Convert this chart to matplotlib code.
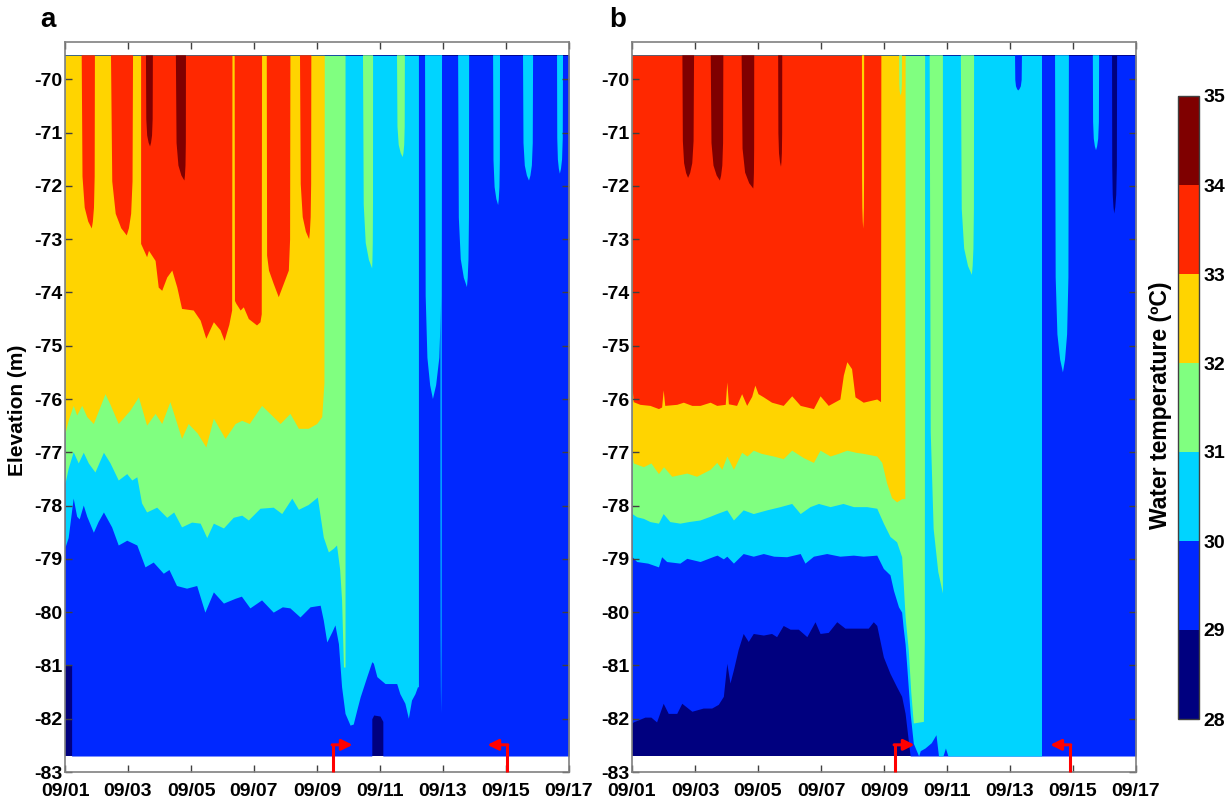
import numpy as np
import matplotlib
matplotlib.use("Agg")
import matplotlib.pyplot as plt
import matplotlib as mpl
from matplotlib.colors import ListedColormap, BoundaryNorm

plt.rcParams['font.family'] = ['Liberation Sans', 'DejaVu Sans']
plt.rcParams['font.weight'] = 'bold'

TOP = -69.55
BOT = -82.7

temp_levels = [28, 29, 30, 31, 32, 33, 34, 35]
band_colors = ['#00007f', '#0028ff', '#00d4ff', '#80ff80', '#ffd400', '#ff2800', '#7f0000']
xtick_pos = [0, 2, 4, 6, 8, 10, 12, 14, 16]
xtick_labels = ['09/01', '09/03', '09/05', '09/07', '09/09', '09/11', '09/13', '09/15', '09/17']
ytick_vals = list(range(-83, -69))

# ---------------- panel a : isotherm elevations (days since 09/01, m) ----------------
a_t29 = [0, 0.21, 0.21, 9.74, 9.74, 9.8, 10.0, 10.09, 10.09, 16]
a_z29 = [-81.0, -81.0, BOT, BOT, -82.0, -81.93, -81.95, -82.05, BOT, BOT]

a_t30 = [0, 0.1, 0.26, 0.37, 0.45, 0.58, 0.69, 0.9, 1.05, 1.22, 1.48, 1.69, 1.96, 2.28, 2.54,
         2.8, 3.12, 3.3, 3.54, 3.86, 4.18, 4.44, 4.71, 5.03, 5.4, 5.6, 5.87, 6.24, 6.61, 6.9,
         7.14, 7.46, 7.78, 8.1, 8.2, 8.31, 8.47, 8.57, 8.68, 8.78, 8.89, 9.05, 9.15, 9.26, 9.37,
         9.58, 9.74, 9.79, 9.9, 10.16, 10.53, 10.63, 10.79, 10.9, 11.0, 11.11, 11.19, 11.22,
         11.22, 16]
a_z30 = [-78.78, -78.6, -77.86, -78.2, -78.25, -77.99, -78.2, -78.5, -78.3, -78.12, -78.4,
         -78.74, -78.65, -78.74, -79.15, -79.06, -79.27, -79.2, -79.5, -79.55, -79.5, -80.0,
         -79.62, -79.83, -79.74, -79.7, -79.92, -79.77, -80.0, -79.9, -79.92, -80.09, -79.9,
         -79.87, -80.15, -80.56, -80.37, -80.24, -80.59, -81.4, -81.9, -82.12, -82.1, -81.84,
         -81.59, -81.21, -80.93, -80.96, -81.21, -81.34, -81.34, -81.53, -81.71, -81.99,
         -81.65, -81.53, -81.4, -81.4, TOP, TOP]

a_t31 = [0, 0.1, 0.26, 0.42, 0.58, 0.74, 0.95, 1.22, 1.43, 1.69, 1.96, 2.12, 2.28, 2.43, 2.59,
         2.91, 3.23, 3.45, 3.7, 4.02, 4.29, 4.5, 4.71, 5.03, 5.34, 5.61, 5.82, 6.19, 6.61, 6.88,
         7.2, 7.41, 7.72, 8.01, 8.2, 8.36, 8.52, 8.62, 8.72, 8.78, 8.84, 8.89, 8.89, 16]
a_z31 = [-77.58, -77.3, -76.99, -77.2, -77.0, -77.2, -77.37, -77.0, -77.2, -77.52, -77.4,
         -77.52, -77.46, -77.95, -78.12, -78.03, -78.22, -78.12, -78.4, -78.31, -78.33, -78.6,
         -78.33, -78.42, -78.22, -78.18, -78.27, -78.05, -78.03, -78.15, -77.86, -78.07, -77.98,
         -77.84, -78.59, -78.87, -78.8, -78.74, -79.2, -79.77, -81.03, -81.03, TOP, TOP]

a_t32 = [0, 0.1, 0.26, 0.37, 0.53, 0.69, 0.9, 1.27, 1.43, 1.69, 2.06, 2.33, 2.59, 2.86, 3.07,
         3.33, 3.7, 3.91, 4.2, 4.47, 4.71, 5.08, 5.4, 5.61, 5.85, 6.24, 6.45, 6.83, 7.14, 7.41,
         7.72, 7.99, 8.15, 8.22, 8.23, 16]
a_z32 = [-76.64, -76.4, -76.12, -76.3, -76.12, -76.33, -76.46, -75.9, -76.1, -76.46, -76.21,
         -75.96, -76.49, -76.27, -76.46, -76.05, -76.74, -76.46, -76.64, -76.9, -76.36, -76.74,
         -76.46, -76.4, -76.46, -76.12, -76.24, -76.46, -76.27, -76.55, -76.55, -76.46, -76.33,
         -75.7, TOP, TOP]

a_t33 = [0, 2.40, 2.40, 2.59, 2.65, 2.86, 2.96, 3.07, 3.23, 3.39, 3.55, 3.7, 4.07, 4.29, 4.47,
         4.71, 4.92, 5.05, 5.2, 5.29, 5.30, 5.37, 5.38, 5.42, 5.56, 5.66, 5.82, 6.08, 6.19, 6.23,
         6.24, 6.39, 6.40, 6.46, 6.61, 6.77, 6.93, 7.09, 7.13, 7.14, 16]
a_z33 = [TOP, TOP, -73.08, -73.33, -73.21, -73.4, -73.9, -73.96, -73.71, -73.58, -73.9, -74.3,
         -74.33, -74.52, -74.86, -74.55, -74.7, -74.9, -74.6, -74.33, TOP, TOP, -74.15, -74.2,
         -74.33, -74.27, -74.49, -74.61, -74.55, -74.4, TOP, TOP, -73.3, -73.58, -73.83, -74.08,
         -73.83, -73.58, -73.0, TOP, TOP]

a_t34 = [0, 16]
a_z34 = [TOP, TOP]

# tongues hanging from the surface: left, right, tip time, tip elevation, band (lower bound)
a_tg_left = [0.53, 1.46, 7.46, 2.57, 3.52, 9.46, 10.54, 11.43, 11.92, 12.48, 13.59, 14.54, 15.62]
a_tg_right = [0.95, 2.16, 7.82, 2.79, 3.84, 9.78, 10.79, 11.97, 11.96, 12.83, 13.81, 14.86, 15.81]
a_tg_tip_t = [0.85, 1.96, 7.75, 2.70, 3.79, 9.75, 10.72, 11.68, 11.94, 12.76, 13.75, 14.73, 15.71]
a_tg_tip_z = [-72.8, -72.93, -73.0, -71.26, -71.9, -73.55, -71.46, -76.0, -81.9, -73.9, -72.36,
              -71.9, -71.77]
a_tg_band = [33, 33, 33, 34, 34, 31, 31, 30, 30, 30, 30, 30, 30]

# ---------------- panel b ----------------
b_t29 = [0, 0.04, 0.41, 0.6, 0.78, 0.99, 1.15, 1.42, 1.58, 1.9, 2.26, 2.53, 2.74, 2.9, 3.01,
         3.11, 3.22, 3.37, 3.53, 3.69, 3.85, 4.17, 4.43, 4.59, 4.8, 5.02, 5.28, 5.55, 5.81,
         5.97, 6.23, 6.5, 6.76, 7.03, 7.3, 7.5, 7.66, 7.77, 7.98, 8.19, 8.4, 8.56, 8.67, 8.77,
         8.83, 16]
b_z29 = [-82.08, -82.06, -81.97, -81.97, -82.06, -81.71, -81.9, -81.9, -81.71, -81.86, -81.8,
         -81.8, -81.73, -81.58, -80.96, -81.33, -81.08, -80.7, -80.4, -80.55, -80.4, -80.43,
         -80.4, -80.46, -80.25, -80.32, -80.32, -80.46, -80.18, -80.4, -80.38, -80.18, -80.3,
         -80.3, -80.3, -80.3, -80.18, -80.25, -80.84, -81.15, -81.4, -81.58, -81.9, -82.4, BOT,
         BOT]

b_t30 = [0, 0.15, 0.5, 0.84, 0.94, 1.1, 1.52, 1.74, 2.16, 2.6, 2.7, 2.9, 3.01, 3.22, 3.53,
         3.85, 4.17, 4.5, 4.91, 5.34, 5.49, 5.76, 6.18, 6.6, 7.03, 7.34, 7.77, 7.98, 8.19, 8.3,
         8.46, 8.56, 8.61, 8.67, 8.72, 8.83, 8.93, 9.1, 9.15, 9.3, 9.5, 9.65, 9.7, 9.73, 9.87,
         9.95, 10.03, 13.0, 13.0, 16]
b_z30 = [-78.96, -79.05, -79.08, -79.15, -78.96, -79.05, -79.08, -78.99, -79.05, -78.95,
         -78.93, -79.0, -78.95, -79.08, -78.9, -78.95, -78.9, -78.95, -78.96, -78.9, -79.08,
         -78.95, -78.9, -78.95, -78.93, -78.95, -78.93, -79.18, -79.3, -79.59, -79.9, -80.0,
         -80.3, -80.6, -81.0, -81.9, -82.46, BOT, -82.6, -82.55, -82.45, -82.3, -82.55, BOT,
         BOT, -82.55, BOT, BOT, TOP, TOP]

b_t31 = [0, 0.15, 0.36, 0.57, 0.84, 0.99, 1.2, 1.52, 1.8, 2.16, 2.48, 2.69, 3.01, 3.22, 3.53,
         3.85, 4.28, 4.7, 5.07, 5.34, 5.65, 5.92, 6.29, 6.7, 7.03, 7.45, 7.77, 7.98, 8.19, 8.4,
         8.56, 8.61, 8.67, 8.77, 8.85, 8.93, 9.25, 9.28, 9.29, 16]
b_z31 = [-78.15, -78.21, -78.24, -78.3, -78.33, -78.15, -78.3, -78.33, -78.3, -78.27, -78.2,
         -78.15, -78.08, -78.27, -78.08, -78.15, -78.08, -78.02, -77.96, -78.15, -78.02, -77.96,
         -78.02, -77.96, -78.02, -78.02, -78.05, -78.33, -78.58, -78.68, -78.96, -79.46, -80.09,
         -80.71, -81.5, -82.08, -82.05, -80.5, TOP, TOP]

b_t32 = [0, 0.04, 0.36, 0.6, 0.84, 1.0, 1.26, 1.74, 2.05, 2.48, 2.69, 2.85, 3.01, 3.22, 3.48,
         3.65, 3.85, 4.1, 4.49, 4.8, 5.07, 5.44, 5.76, 5.97, 6.29, 6.55, 6.82, 7.1, 7.34, 7.77,
         7.93, 8.08, 8.24, 8.4, 8.56, 8.66, 8.67, 16]
b_z32 = [-77.02, -77.2, -77.27, -77.2, -77.4, -77.27, -77.45, -77.39, -77.45, -77.32, -77.19,
         -77.32, -77.07, -77.32, -77.0, -77.07, -76.96, -77.02, -77.07, -77.12, -76.96, -77.1,
         -77.19, -76.96, -77.07, -77.02, -76.96, -77.0, -77.02, -77.07, -77.19, -77.57, -77.85,
         -77.93, -77.87, -77.87, TOP, TOP]

b_t33 = [0, 0.04, 0.25, 0.57, 0.84, 0.94, 0.99, 1.04, 1.42, 1.63, 1.9, 2.16, 2.48, 2.69, 2.96,
         3.01, 3.06, 3.32, 3.48, 3.64, 3.8, 3.9, 4.0, 4.17, 4.43, 4.8, 5.07, 5.34, 5.76, 5.97,
         6.23, 6.6, 6.71, 6.82, 6.97, 7.08, 7.34, 7.77, 7.89, 7.9, 16]
b_z33 = [-75.77, -76.05, -76.1, -76.12, -76.18, -76.15, -75.83, -76.12, -76.1, -76.06, -76.12,
         -76.12, -76.06, -76.12, -76.1, -75.68, -76.09, -76.12, -75.9, -76.12, -75.95, -75.74,
         -75.9, -75.96, -76.06, -76.12, -75.94, -76.12, -76.18, -75.94, -76.12, -76.0, -75.55,
         -75.3, -75.43, -75.96, -76.06, -76.0, -76.05, TOP, TOP]

b_t34 = [0, 16]
b_z34 = [TOP, TOP]

b_tg_left = [1.60, 2.50, 3.48, 4.64, 7.30, 8.48, 9.45, 10.44, 12.16, 13.43, 14.63, 15.24]
b_tg_right = [1.97, 2.90, 3.88, 4.77, 7.37, 8.57, 9.87, 10.86, 12.38, 13.87, 14.83, 15.40]
b_tg_tip_t = [1.78, 2.79, 3.85, 4.73, 7.34, 8.53, 9.87, 10.79, 12.26, 13.68, 14.73, 15.31]
b_tg_tip_z = [-71.85, -71.9, -72.05, -71.64, -72.8, -70.3, -79.65, -73.67, -70.21, -75.5,
              -71.33, -72.52]
b_tg_band = [34, 34, 34, 34, 32, 31, 31, 31, 29, 30, 30, 28]

# gate operation markers (day, direction)
a_arrow_t = [8.51, 14.03]
a_arrow_dir = [1, -1]
b_arrow_t = [8.35, 13.90]
b_arrow_dir = [1, -1]

# ------------------------------------------------------------------
DEPTH_FR = [0.0, 0.7, 0.88, 0.96, 1.0]
WIDTH_FR = [0.0, 0.08, 0.3, 0.65, 1.0]


def color_of(band):
    return band_colors[temp_levels.index(band)]


def draw_panel(ax, iso, tg_l, tg_r, tg_tt, tg_tz, tg_b, arr_t, arr_d):
    ax.fill_between([0, 16], [BOT, BOT], [TOP, TOP], color=band_colors[0], lw=0)
    for band, (tt, zz) in zip([29, 30, 31, 32, 33, 34], iso):
        ax.fill_between(tt, zz, TOP, color=color_of(band), lw=0)
    for t0, t1, tpt, tpz, b in zip(tg_l, tg_r, tg_tt, tg_tz, tg_b):
        lx = [t0 + (tpt - t0) * w for w in WIDTH_FR]
        rx = [t1 - (t1 - tpt) * w for w in WIDTH_FR]
        zs = [TOP + (tpz - TOP) * d for d in DEPTH_FR]
        ax.fill(lx + rx[::-1], zs + zs[::-1], color=color_of(b), lw=0)
    for t, d in zip(arr_t, arr_d):
        ax.plot([t, t], [-83.0, -82.49], color='#ff0000', lw=2.2, clip_on=False,
                solid_capstyle='butt', zorder=5)
        ax.annotate('', xy=(t + d * 0.62, -82.49), xytext=(t - d * 0.03, -82.49),
                    arrowprops=dict(arrowstyle='-|>', color='#ff0000', lw=2.2,
                                    mutation_scale=16, shrinkA=0, shrinkB=0), zorder=5)
    ax.set_xlim(0, 16)
    ax.set_ylim(-83, -69.3)
    ax.set_xticks(xtick_pos)
    ax.set_xticklabels(xtick_labels)
    ax.set_yticks(ytick_vals)
    ax.set_yticklabels([str(v) for v in ytick_vals])
    ax.tick_params(direction='in', length=5, width=1, color='#404040', top=True, right=True,
                   labelsize=14)
    ax.tick_params(axis='x', pad=8)
    ax.tick_params(axis='y', pad=2)
    for s in ax.spines.values():
        s.set_color('#808080')
        s.set_linewidth(1.2)


fig = plt.figure(figsize=(12.29, 8.06), dpi=100)
H = 806.0
W = 1229.0
ax_a = fig.add_axes([65 / W, 1 - 772 / H, 504 / W, 730 / H])
ax_b = fig.add_axes([632 / W, 1 - 772 / H, 504 / W, 730 / H])

draw_panel(ax_a, [(a_t29, a_z29), (a_t30, a_z30), (a_t31, a_z31), (a_t32, a_z32),
                  (a_t33, a_z33), (a_t34, a_z34)],
           a_tg_left, a_tg_right, a_tg_tip_t, a_tg_tip_z, a_tg_band, a_arrow_t, a_arrow_dir)
draw_panel(ax_b, [(b_t29, b_z29), (b_t30, b_z30), (b_t31, b_z31), (b_t32, b_z32),
                  (b_t33, b_z33), (b_t34, b_z34)],
           b_tg_left, b_tg_right, b_tg_tip_t, b_tg_tip_z, b_tg_band, b_arrow_t, b_arrow_dir)

fig.text(48 / W, 1 - 20 / H, 'a', fontsize=20, fontweight='bold', ha='center', va='center')
fig.text(618 / W, 1 - 20 / H, 'b', fontsize=20, fontweight='bold', ha='center', va='center')
fig.text(18 / W, 1 - 410 / H, 'Elevation (m)', rotation=90, fontsize=15, fontweight='bold',
         ha='center', va='center')

cax = fig.add_axes([1178 / W, 1 - 719 / H, 21 / W, 623 / H])
cmap = ListedColormap(band_colors)
norm = BoundaryNorm(temp_levels, cmap.N)
cb = mpl.colorbar.ColorbarBase(cax, cmap=cmap, norm=norm, ticks=temp_levels,
                               orientation='vertical')
cb.outline.set_edgecolor('#404040')
cb.outline.set_linewidth(1.0)
cax.tick_params(length=0, labelsize=14, pad=3)
fig.text(1160 / W, 1 - 405 / H, 'Water temperature (ºC)', rotation=90, fontsize=16.5,
         fontweight='bold', ha='center', va='center')

fig.savefig('out.png', dpi=100)
